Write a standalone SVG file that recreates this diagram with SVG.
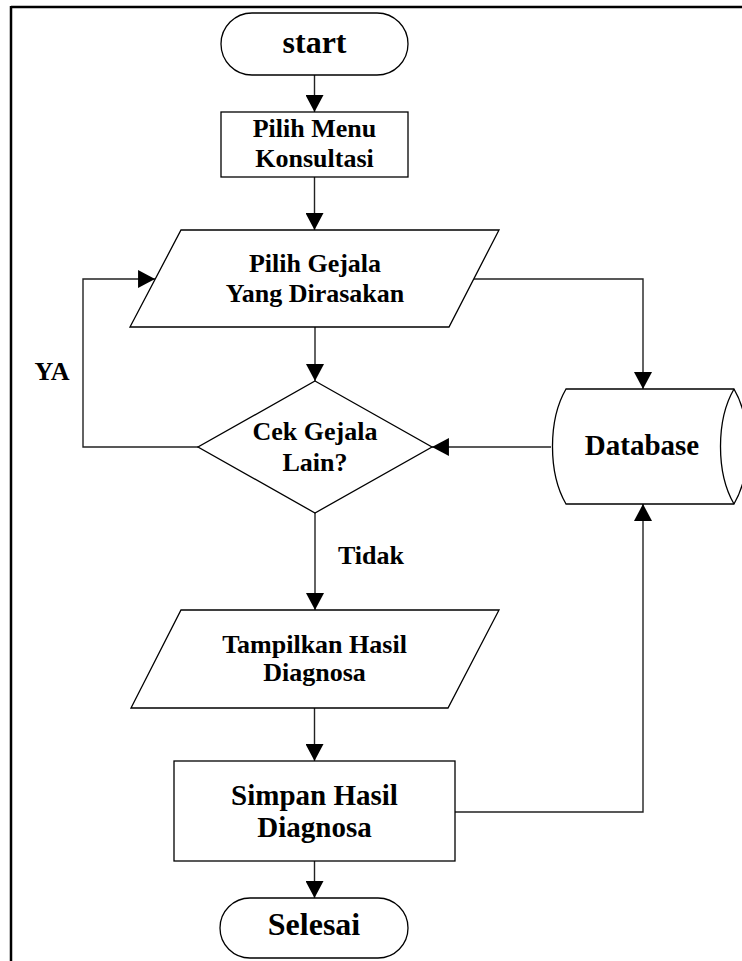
<svg xmlns="http://www.w3.org/2000/svg" width="742" height="961" viewBox="0 0 742 961">
<defs>
<style>
.shape{fill:#fff;stroke:#000;stroke-width:1.3}
.conn{fill:none;stroke:#222;stroke-width:1.4}
.t{font-family:"Liberation Serif","Times New Roman",serif;font-weight:bold;fill:#000;text-anchor:middle}
.s26{font-size:26px}
.s29{font-size:29px}
.s32{font-size:32px}
</style>
<marker id="ah" markerUnits="userSpaceOnUse" markerWidth="18" markerHeight="18" viewBox="0 0 16 17" refX="16" refY="8.5" orient="auto">
<path d="M0,0 L16,8.5 L0,17 Z" fill="#000"/>
</marker>
</defs>
<rect width="742" height="961" fill="#fff"/>
<g id="frame">
<line x1="11" y1="7" x2="742" y2="7" stroke="#000" stroke-width="2.5"/>
<line x1="11" y1="6" x2="11" y2="961" stroke="#000" stroke-width="2.5"/>
</g>
<g id="connectors">
<line class="conn" x1="314.5" y1="75" x2="314.5" y2="112" marker-end="url(#ah)"/>
<line class="conn" x1="314.5" y1="177" x2="314.5" y2="230" marker-end="url(#ah)"/>
<line class="conn" x1="315" y1="327" x2="315" y2="381" marker-end="url(#ah)"/>
<polyline class="conn" points="198,447 83,447 83,279 155,279" marker-end="url(#ah)"/>
<polyline class="conn" points="474,279 643,279 643,389" marker-end="url(#ah)"/>
<line class="conn" x1="551" y1="447" x2="432" y2="447" marker-end="url(#ah)"/>
<line class="conn" x1="315" y1="513" x2="315" y2="610" marker-end="url(#ah)"/>
<line class="conn" x1="314.5" y1="708" x2="314.5" y2="761" marker-end="url(#ah)"/>
<polyline class="conn" points="455,812 643,812 643,504" marker-end="url(#ah)"/>
<line class="conn" x1="314.5" y1="861" x2="314.5" y2="898" marker-end="url(#ah)"/>
<text class="t s26" x="52" y="380">YA</text>
<text class="t s26" x="371" y="564">Tidak</text>
</g>
<g id="start">
<rect class="shape" x="221" y="13" width="187" height="62" rx="31" ry="31"/>
<text class="t s32" x="314.5" y="53">start</text>
</g>
<g id="pilih-menu">
<rect class="shape" x="221" y="112" width="187" height="65"/>
<text class="t s26" x="314.5" y="137">Pilih Menu</text>
<text class="t s26" x="314.5" y="167">Konsultasi</text>
</g>
<g id="pilih-gejala">
<polygon class="shape" points="181,230 499,230 449,327 130,327"/>
<text class="t s26" x="315" y="272">Pilih Gejala</text>
<text class="t s26" x="315" y="302">Yang Dirasakan</text>
</g>
<g id="cek-gejala">
<polygon class="shape" points="315,381 432,447 315,513 198,447"/>
<text class="t s26" x="315" y="440">Cek Gejala</text>
<text class="t s26" x="315" y="471">Lain?</text>
</g>
<g id="database">
<path class="shape" d="M566,389 L734,389 C752,420 752,473 734,504 L566,504 C548,473 548,420 566,389 Z"/>
<path class="shape" fill="none" d="M734,389 C716,420 716,473 734,504"/>
<text class="t s29" x="642" y="455">Database</text>
</g>
<g id="tampilkan">
<polygon class="shape" points="181,610 499,610 448,708 131,708"/>
<text class="t s26" x="314.5" y="653">Tampilkan Hasil</text>
<text class="t s26" x="314.5" y="681">Diagnosa</text>
</g>
<g id="simpan">
<rect class="shape" x="174" y="761" width="281" height="100"/>
<text class="t s29" x="314.5" y="805">Simpan Hasil</text>
<text class="t s29" x="314.5" y="837">Diagnosa</text>
</g>
<g id="selesai">
<rect class="shape" x="220" y="898" width="188" height="60" rx="30" ry="30"/>
<text class="t s32" x="314" y="935">Selesai</text>
</g>
</svg>
